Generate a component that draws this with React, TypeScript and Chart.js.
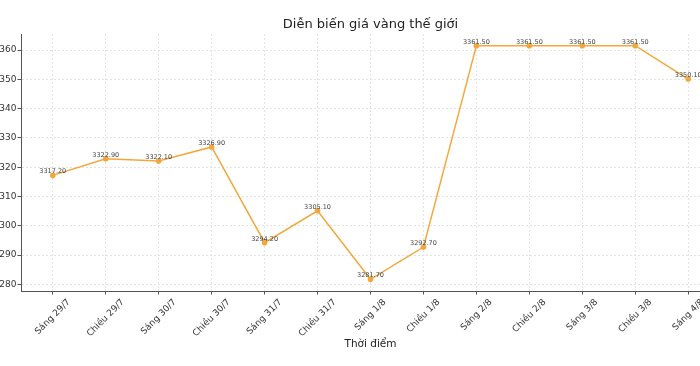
import React, { useEffect, useRef } from "react";
import { Chart, registerables } from "chart.js";

Chart.register(...registerables);

const TITLE = "Diễn biến giá vàng thế giới";
const X_TITLE = "Thời điểm";
const categories = [
  "Sáng 29/7", "Chiều 29/7", "Sáng 30/7", "Chiều 30/7", "Sáng 31/7", "Chiều 31/7",
  "Sáng 1/8", "Chiều 1/8", "Sáng 2/8", "Chiều 2/8", "Sáng 3/8", "Chiều 3/8", "Sáng 4/8",
];
const prices = [
  3317.2, 3322.9, 3322.1, 3326.9, 3294.2, 3305.1, 3281.7, 3292.7,
  3361.5, 3361.5, 3361.5, 3361.5, 3350.1,
];
const yStep = 10;

const FONT = "'DejaVu Sans', sans-serif";
const LINE = "#F3A73B";

export default function App() {
  const ref = useRef<HTMLCanvasElement | null>(null);

  useEffect(() => {
    if (!ref.current) return;
    const lo = Math.min(...prices);
    const hi = Math.max(...prices);
    const m = (hi - lo) * 0.05;
    const n = categories.length;

    const pointLabels = {
      id: "pointLabels",
      afterDatasetsDraw(chart: any) {
        const ctx = chart.ctx;
        const meta = chart.getDatasetMeta(0);
        ctx.save();
        ctx.font = `6.5px ${FONT}`;
        ctx.fillStyle = "#444";
        ctx.textAlign = "center";
        ctx.textBaseline = "bottom";
        meta.data.forEach((pt: any, i: number) => {
          ctx.fillText(prices[i].toFixed(2), pt.x, pt.y - 0.5);
        });
        ctx.restore();
      },
    };

    const texts = {
      id: "texts",
      afterDraw(chart: any) {
        const ctx = chart.ctx;
        const xs = chart.scales.x;
        const area = chart.chartArea;
        ctx.save();
        // title centred over the plot area
        ctx.font = `13px ${FONT}`;
        ctx.fillStyle = "#222";
        ctx.textAlign = "center";
        ctx.textBaseline = "middle";
        ctx.fillText(TITLE, (area.left + area.right) / 2, 24.5);
        // rotated category labels, bbox centred under each tick
        const top = area.bottom + 6;
        ctx.font = `9px ${FONT}`;
        ctx.fillStyle = "#333";
        categories.forEach((c, i) => {
          const x = xs.getPixelForValue(i);
          const w = ctx.measureText(c).width;
          const h = 9 * 1.16;
          const B = (w + h) / Math.SQRT2;
          ctx.save();
          ctx.translate(x, top + B / 2);
          ctx.rotate(-Math.PI / 4);
          ctx.fillText(c, 0, 0);
          ctx.restore();
        });
        ctx.restore();
      },
    };

    const grid = {
      color: "#dddddd",
      lineWidth: 0.8,
      tickLength: 3.5,
      tickColor: "#555",
      tickWidth: 1,
      tickBorderDash: [],
      borderDash: [2, 2],
    } as any;
    const border = { display: true, color: "#555", width: 1, dash: [2, 2] } as any;

    const chart = new Chart(ref.current, {
      type: "line",
      data: {
        datasets: [
          {
            data: prices.map((v, i) => ({ x: i, y: v })),
            borderColor: LINE,
            backgroundColor: LINE,
            borderWidth: 1.5,
            pointRadius: 2.8,
            pointBorderWidth: 0,
            pointBackgroundColor: LINE,
            tension: 0,
          },
        ],
      },
      options: {
        animation: false,
        responsive: false,
        devicePixelRatio: 1,
        layout: { padding: { left: 0, right: 40, top: 34, bottom: 0 } },
        plugins: {
          legend: { display: false },
          tooltip: { enabled: false },
          title: { display: false },
        },
        scales: {
          x: {
            type: "linear",
            min: -0.6,
            max: n - 1 + 0.6,
            afterFit: (s: any) => {
              s.height = 75;
            },
            ticks: { stepSize: 1, includeBounds: false, display: false },
            grid,
            border,
            title: {
              display: true,
              text: X_TITLE,
              color: "#222",
              font: { family: FONT, size: 10.5 },
              padding: { top: 0, bottom: 15 },
            },
          },
          y: {
            min: lo - m,
            max: hi + m,
            afterFit: (s: any) => {
              s.width = 61;
            },
            ticks: {
              stepSize: yStep,
              includeBounds: false,
              color: "#333",
              padding: 1,
              font: { family: FONT, size: 9 },
              callback: (v: any) => String(v),
            },
            grid,
            border,
          },
        },
      },
      plugins: [pointLabels, texts],
    });
    return () => chart.destroy();
  }, []);

  return (
    <div
      style={{
        position: "fixed",
        left: 0,
        top: 0,
        width: 700,
        height: 366,
        overflow: "hidden",
        background: "#fff",
      }}
    >
      <canvas
        ref={ref}
        width={800}
        height={366}
        style={{ position: "absolute", left: -40, top: 0, width: 800, height: 366, display: "block" }}
      />
    </div>
  );
}
